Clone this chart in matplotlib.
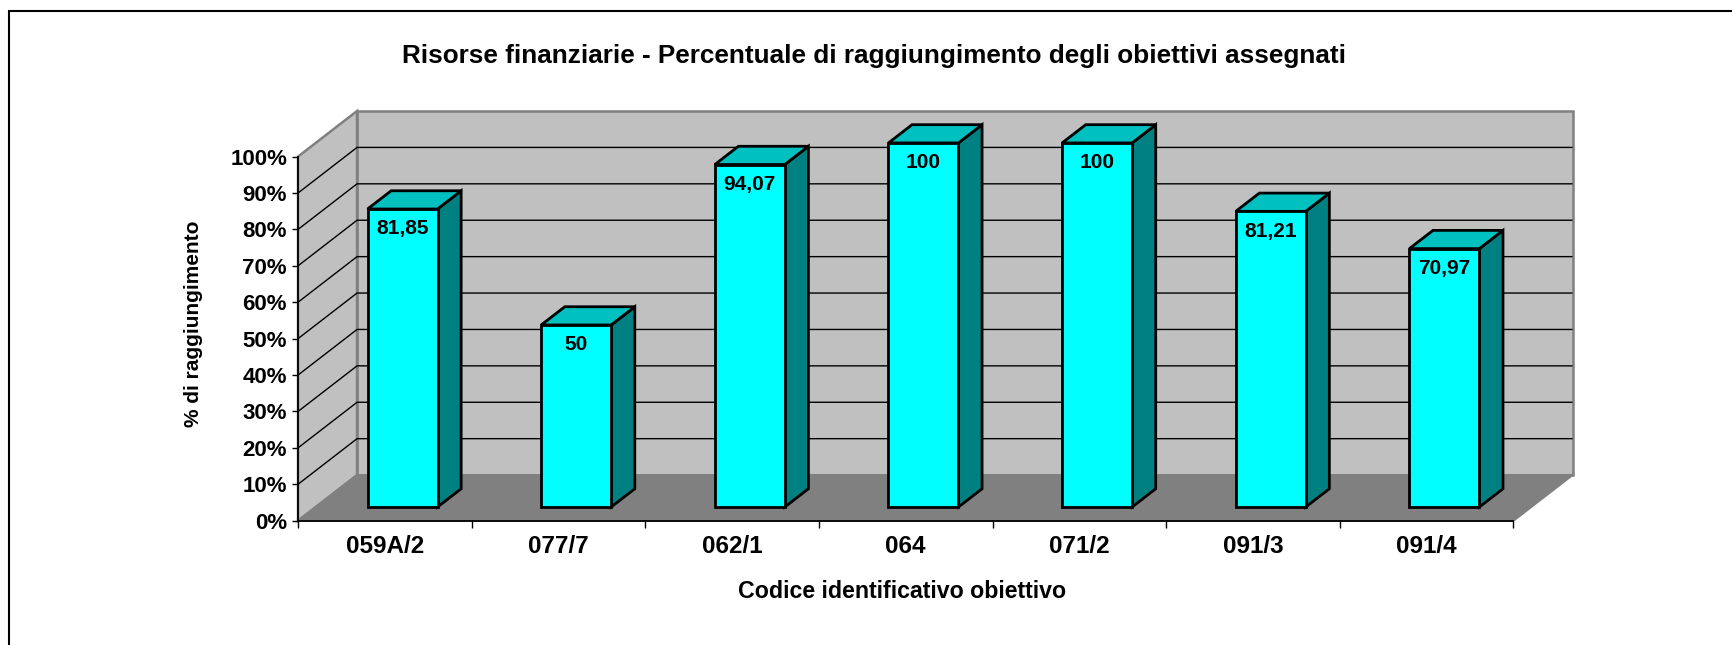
import numpy as np
import matplotlib
matplotlib.use("Agg")
import matplotlib.pyplot as plt
from matplotlib.patches import Polygon, Rectangle

# data
categories = ["059A/2", "077/7", "062/1", "064", "071/2", "091/3", "091/4"]
values = [81.85, 50, 94.07, 100, 100, 81.21, 70.97]
y_ticks = list(range(0, 101, 10))

title = "Risorse finanziarie - Percentuale di raggiungimento degli obiettivi assegnati"
x_title = "Codice identificativo obiettivo"
y_title = "% di raggiungimento"

plt.rcParams['font.family'] = ['Liberation Sans', 'DejaVu Sans']
plt.rcParams['font.weight'] = 'bold'

# oblique "3D" look, like the old spreadsheet chart
DX = 0.34      # depth offset in category units
DY = 12.53     # depth offset in value units
BAR_W = 0.403
BAR_POS = 0.3  # front of the bar as a fraction of the depth
BAR_D = 0.4    # bar depth as a fraction of the depth

C_FRONT = "#00ffff"
C_SIDE = "#008080"
C_TOP = "#00c0c0"
C_WALL = "#c0c0c0"
C_FLOOR = "#808080"
C_EDGE = "#808080"

n = len(categories)
x_lo, x_hi = -0.5, n - 0.5

fig = plt.figure(figsize=(17.33, 6.45), dpi=100)
ax = fig.add_axes([0.17196, 0.1927, 0.73544, 0.6352])
ax.set_xlim(x_lo, x_hi + DX)
ax.set_ylim(0, 100 + DY)

# walls and floor
back = Polygon([(x_lo + DX, DY), (x_hi + DX, DY), (x_hi + DX, 100 + DY), (x_lo + DX, 100 + DY)],
               closed=True, fc=C_WALL, ec=C_EDGE, lw=1.8, zorder=1)
left = Polygon([(x_lo, 0), (x_lo, 100), (x_lo + DX, 100 + DY), (x_lo + DX, DY)],
               closed=True, fc=C_WALL, ec=C_EDGE, lw=1.8, zorder=1)
floor = Polygon([(x_lo, 0), (x_hi, 0), (x_hi + DX, DY), (x_lo + DX, DY)],
                closed=True, fc=C_FLOOR, ec=C_EDGE, lw=1.5, zorder=1)
for p in (back, left, floor):
    p.set_clip_on(False)
    ax.add_patch(p)

# gridlines: diagonal on the side wall, horizontal on the back wall
for v in y_ticks[1:-1]:
    ax.plot([x_lo, x_lo + DX, x_hi + DX], [v, v + DY, v + DY],
            color="black", lw=1, zorder=2, clip_on=False, solid_capstyle="butt")

# bars
for i, v in enumerate(values):
    x0 = i - BAR_W / 2 + BAR_POS * DX
    y0 = BAR_POS * DY
    x1 = x0 + BAR_W
    y1 = y0 + v
    ddx, ddy = BAR_D * DX, BAR_D * DY
    side = Polygon([(x1, y0), (x1 + ddx, y0 + ddy), (x1 + ddx, y1 + ddy), (x1, y1)],
                   closed=True, fc=C_SIDE, ec="black", lw=2, zorder=3, joinstyle="miter")
    top = Polygon([(x0, y1), (x1, y1), (x1 + ddx, y1 + ddy), (x0 + ddx, y1 + ddy)],
                  closed=True, fc=C_TOP, ec="black", lw=2, zorder=3, joinstyle="miter")
    front = Rectangle((x0, y0), BAR_W, v, fc=C_FRONT, ec="black", lw=2, zorder=4,
                      joinstyle="miter")
    for p in (side, top, front):
        p.set_clip_on(False)
        ax.add_patch(p)
    lab = f"{v:g}".replace(".", ",")
    ax.annotate(lab, (x0 + BAR_W / 2, y1), xytext=(0, -7.5), textcoords="offset points",
                ha="center", va="top", fontsize=15, fontweight="bold", zorder=5)

# axes
for s in ("top", "right"):
    ax.spines[s].set_visible(False)
ax.spines["left"].set_bounds(0, 100)
ax.spines["bottom"].set_bounds(x_lo, x_hi)
for s in ("left", "bottom"):
    ax.spines[s].set_linewidth(1.3)
    ax.spines[s].set_color("black")
    ax.spines[s].set_zorder(6)

ax.set_yticks(y_ticks, labels=[f"{v}%" for v in y_ticks])
ax.tick_params(axis="y", length=4.3, width=1, pad=3.6, labelsize=16)
ax.set_xticks(range(n), labels=categories)
ax.set_xticks(np.arange(x_lo, x_hi + 0.01, 1), minor=True)
ax.tick_params(axis="x", which="major", length=0, pad=10.5, labelsize=17.5)
ax.tick_params(axis="x", which="minor", length=5, width=1)
ax.tick_params(axis="y", which="minor", length=0)
for t in ax.get_xticklabels() + ax.get_yticklabels():
    t.set_fontweight("bold")
ax.patch.set_visible(False)

# texts
fig.text(0.5043, 0.9019, title, ha="center", va="baseline", fontsize=18.8, fontweight="bold")
fig.text(0.5208, 0.0724, x_title, ha="center", va="baseline", fontsize=16.7, fontweight="bold")
fig.text(0.1119, 0.4981, y_title, rotation=90, ha="center", va="center",
         fontsize=15, fontweight="bold")

# outer frame (only left and top edges show in the picture)
fig.add_artist(Rectangle((9 / 1733, -0.1), 1.2, 0.9825 + 0.1, transform=fig.transFigure,
                         fill=False, ec="black", lw=1.5))

fig.savefig("out.png", dpi=100)
